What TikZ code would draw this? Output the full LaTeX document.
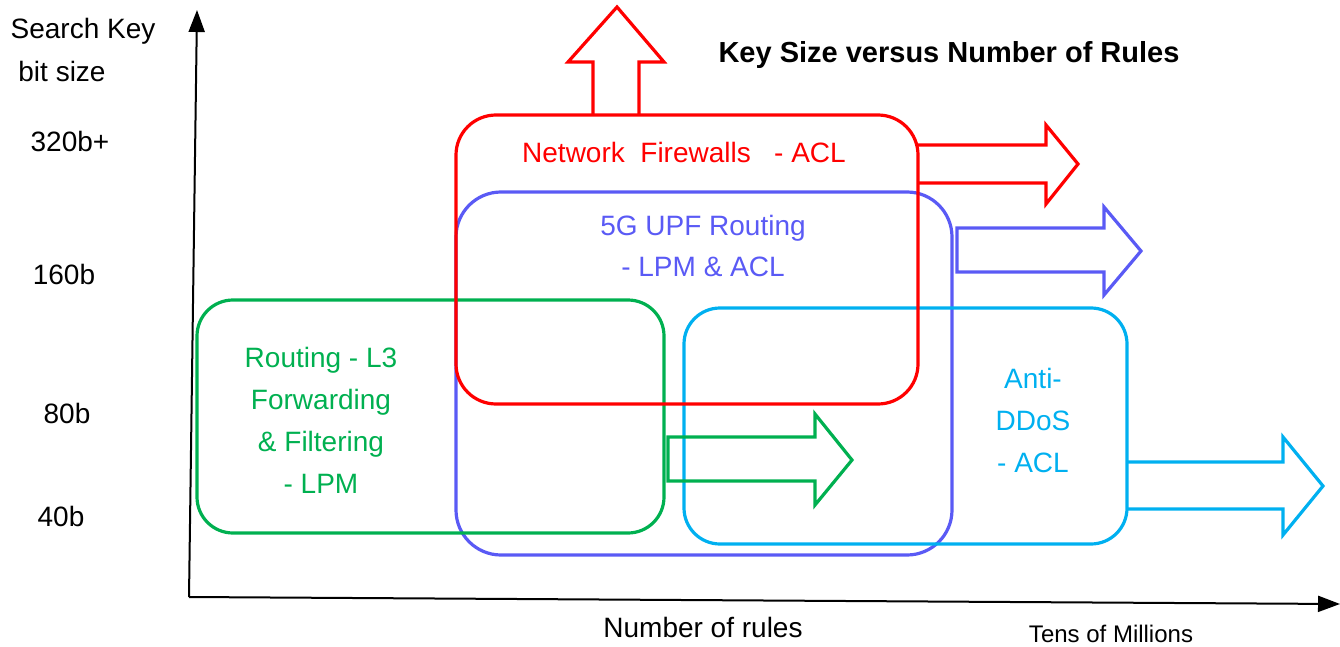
\documentclass[tikz,border=0pt]{standalone}
\usepackage{fontspec}
\setmainfont{Liberation Sans}
\usetikzlibrary{arrows.meta}
\definecolor{cred}{RGB}{255,0,0}
\definecolor{cblue}{RGB}{90,90,245}
\definecolor{cgreen}{RGB}{0,176,80}
\definecolor{ccyan}{RGB}{0,176,240}
\tikzset{
  region/.style={line width=3.2pt, rounded corners=#1},
  bigarrow/.style={line width=3.2pt, line join=miter, draw=#1},
  lbl/.style={font=\fontsize{28}{33}\selectfont, inner sep=0pt, align=center},
  axis/.style={line width=2pt, -{Triangle[length=22pt,width=16pt]}}
}
\begin{document}
\begin{tikzpicture}[x=1pt,y=-1pt]
\useasboundingbox (0,0) rectangle (1340,647);
% axes
\coordinate (o) at (189,597);
\coordinate (ytop) at (197,10);
\coordinate (xend) at (1340,604);
\draw[axis] (o) -- (ytop);
\draw[axis] (o) -- (xend);
% y labels
\node[lbl] (ylab1) at (83,31) {Search Key};
\node[lbl] (ylab2) at (62,71) {bit size};
\node[lbl] (y320) at (70,141) {320b+};
\node[lbl] (y160) at (64,274) {160b};
\node[lbl] (y80) at (67,413) {80b};
\node[lbl] (y40) at (61,516) {40b};
% x labels
\node[lbl] (xlab) at (703,627) {Number of rules};
\node[lbl, font=\fontsize{24}{28}\selectfont] (tens) at (1111,634) {Tens of Millions};
\node[lbl, font=\bfseries\fontsize{29}{34}\selectfont] (title) at (949,55) {Key Size versus Number of Rules};
% regions
\draw[region=45pt, cblue] (456,192) rectangle (952,555);
\draw[region=36pt, cgreen] (197,300) rectangle (664,533);
\draw[region=36pt, ccyan] (684,308) rectangle (1127,544);
\draw[region=40pt, cred] (456,115) rectangle (918,404);
% arrows
\draw[bigarrow=cred] (593,115) -- (593,62) -- (568,62) -- (617,7) -- (664,62) -- (639,62) -- (639,115);
\draw[bigarrow=cred] (918,145) -- (1046,145) -- (1046,125) -- (1078,164) -- (1046,204) -- (1046,183) -- (918,183);
\draw[bigarrow=cblue] (957,228) -- (1104,228) -- (1104,207) -- (1141,251) -- (1104,295) -- (1104,272) -- (957,272) -- cycle;
\draw[bigarrow=cgreen] (668,437) -- (815,437) -- (815,414) -- (852,460) -- (815,505) -- (815,481) -- (668,481) -- cycle;
\draw[bigarrow=ccyan] (1127,462) -- (1283,462) -- (1283,437) -- (1323,486) -- (1283,535) -- (1283,509) -- (1127,509);
% texts
\node[lbl, text=cred] (fw) at (684,152) {Network\ \ Firewalls\ \ \ - ACL};
\node[lbl, text=cblue, font=\fontsize{28}{41}\selectfont] (upf) at (703,246) {5G UPF Routing\\- LPM \& ACL};
\node[lbl, text=cgreen, font=\fontsize{28}{42}\selectfont] (rt) at (321,420) {Routing - L3\\Forwarding\\\& Filtering\\- LPM};
\node[lbl, text=ccyan, font=\fontsize{28}{42}\selectfont] (dd) at (1033,420) {Anti-\\DDoS\\- ACL};
\end{tikzpicture}
\end{document}
